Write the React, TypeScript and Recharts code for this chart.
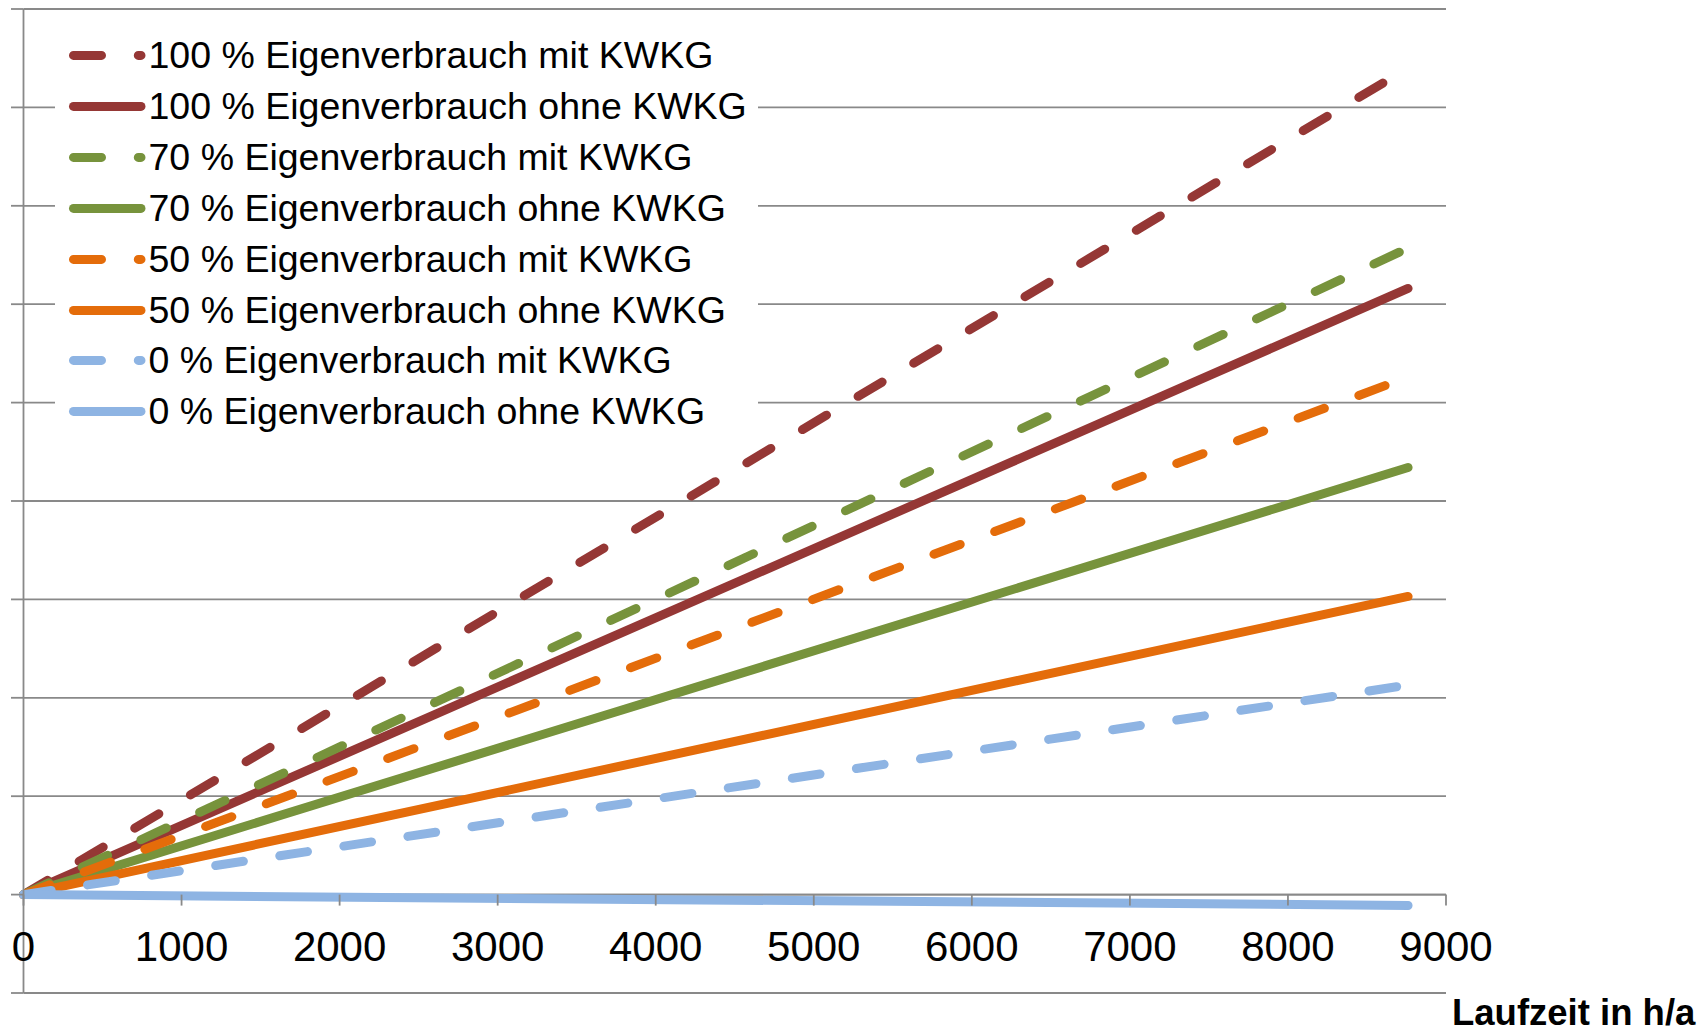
import { CartesianGrid, Legend, Line, LineChart, ReferenceLine, XAxis, YAxis } from 'recharts'

// Laufzeit (h/a) and the matching end values of each straight line
const hours = [0, 8760]
const eigen100Mit = [0, 8.4]
const eigen100Ohne = [0, 6.16]
const eigen70Mit = [0, 6.57]
const eigen70Ohne = [0, 4.34]
const eigen50Mit = [0, 5.26]
const eigen50Ohne = [0, 3.03]
const eigen0Mit = [0, 2.13]
const eigen0Ohne = [0, -0.11]

const xTicks = [0, 1000, 2000, 3000, 4000, 5000, 6000, 7000, 8000, 9000]
const yTicks = [-1, 0, 1, 2, 3, 4, 5, 6, 7, 8, 9]

const series = [
    { key: 'e100mit', name: '100 % Eigenverbrauch mit KWKG', values: eigen100Mit, color: '#953735', dashed: true },
    { key: 'e100ohne', name: '100 % Eigenverbrauch ohne KWKG', values: eigen100Ohne, color: '#953735', dashed: false },
    { key: 'e70mit', name: '70 % Eigenverbrauch mit KWKG', values: eigen70Mit, color: '#77933C', dashed: true },
    { key: 'e70ohne', name: '70 % Eigenverbrauch ohne KWKG', values: eigen70Ohne, color: '#77933C', dashed: false },
    { key: 'e50mit', name: '50 % Eigenverbrauch mit KWKG', values: eigen50Mit, color: '#E46C0A', dashed: true },
    { key: 'e50ohne', name: '50 % Eigenverbrauch ohne KWKG', values: eigen50Ohne, color: '#E46C0A', dashed: false },
    { key: 'e0mit', name: '0 % Eigenverbrauch mit KWKG', values: eigen0Mit, color: '#8EB4E3', dashed: true },
    { key: 'e0ohne', name: '0 % Eigenverbrauch ohne KWKG', values: eigen0Ohne, color: '#8EB4E3', dashed: false },
]

const data = hours.map((h, i) => {
    const row: Record<string, number> = { h }
    series.forEach((s) => {
        row[s.key] = s.values[i]
    })
    return row
})

const WIDTH = 1703
const HEIGHT = 1033
const TOP = 9
const X_AXIS_H = 40
const UNIT = (HEIGHT - X_AXIS_H - TOP) / (yTicks.length - 1)
const GRID = '#898989'
const DASH = '28 36.8'
const FONT = '"Liberation Sans", Arial, sans-serif'

const XTick = ({ x, y, payload }: any) => {
    const zeroY = y - UNIT
    return (
        <g>
            <line x1={x} x2={x} y1={zeroY} y2={zeroY + 11} stroke={GRID} strokeWidth={1.8} />
            <text x={x} y={zeroY + 66} textAnchor="middle" fontSize={42} fontFamily={FONT} fill="#000">
                {payload.value}
            </text>
        </g>
    )
}

const LegendBox = () => (
    <div style={{ background: '#fff', fontFamily: FONT, fontSize: 37.5, color: '#000' }}>
        {series.map((s) => (
            <div key={s.key} style={{ position: 'relative', height: 50.85, whiteSpace: 'nowrap' }}>
                <svg width={93} height={50.85} style={{ position: 'absolute', left: 0, top: 0 }}>
                    <line
                        x1={18.5}
                        x2={86}
                        y1={25.4}
                        y2={25.4}
                        stroke={s.color}
                        strokeWidth={9}
                        strokeLinecap="round"
                        strokeDasharray={s.dashed ? DASH : undefined}
                    />
                </svg>
                <span style={{ position: 'absolute', left: 93.5, top: 0, lineHeight: '50.85px' }}>{s.name}</span>
            </div>
        ))}
    </div>
)

export default function App() {
    return (
        <div style={{ position: 'absolute', left: 0, top: 0, width: WIDTH, height: HEIGHT, background: '#fff' }}>
            <LineChart width={WIDTH} height={HEIGHT} data={data} margin={{ top: TOP, right: 257, bottom: 0, left: 0 }}>
                <CartesianGrid horizontal vertical={false} stroke={GRID} strokeWidth={1.8} />
                <XAxis
                    dataKey="h"
                    type="number"
                    domain={[0, 9000]}
                    ticks={xTicks}
                    interval={0}
                    height={X_AXIS_H}
                    axisLine={false}
                    tickLine={false}
                    tickSize={0}
                    tickMargin={0}
                    tick={XTick}
                    label={{
                        content: (props: any) => {
                            const vb = props.viewBox || { x: 23.5, y: 993, width: 1422.5, height: 40 }
                            return (
                                <text
                                    x={vb.x + vb.width + 6}
                                    y={vb.y + vb.height - 8}
                                    fontSize={36.5}
                                    fontWeight="bold"
                                    fontFamily={FONT}
                                    fill="#000"
                                >
                                    Laufzeit in h/a
                                </text>
                            )
                        },
                    }}
                />
                <YAxis
                    type="number"
                    domain={[-1, 9]}
                    ticks={yTicks}
                    interval={0}
                    width={23.5}
                    axisLine={{ stroke: GRID, strokeWidth: 1.8 }}
                    tickLine={{ stroke: GRID, strokeWidth: 1.8 }}
                    tickSize={12.5}
                    tick={() => null}
                />
                <ReferenceLine y={0} stroke={GRID} strokeWidth={1.8} />
                <Legend
                    layout="vertical"
                    align="center"
                    verticalAlign="middle"
                    content={() => <LegendBox />}
                    wrapperStyle={{ left: 55, top: 30.3, width: 703, height: 407 }}
                />
                {series.map((s) => (
                    <Line
                        key={s.key}
                        dataKey={s.key}
                        name={s.name}
                        type="linear"
                        stroke={s.color}
                        strokeWidth={9}
                        strokeLinecap="round"
                        strokeLinejoin="round"
                        strokeDasharray={s.dashed ? DASH : undefined}
                        dot={false}
                        activeDot={false}
                        isAnimationActive={false}
                    />
                ))}
            </LineChart>
        </div>
    )
}
